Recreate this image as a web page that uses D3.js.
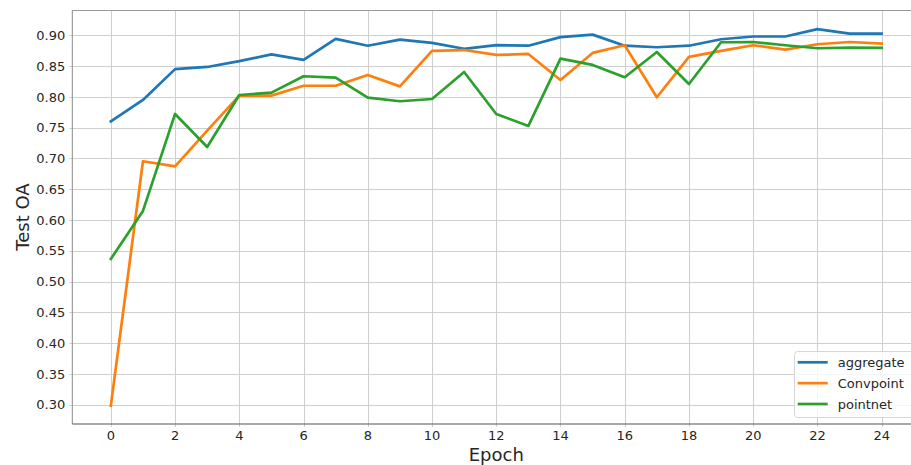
<!DOCTYPE html>
<html lang="en">
<head>
<meta charset="utf-8">
<title>Test OA per epoch</title>
<script src="https://d3js.org/d3.v7.min.js"></script>
<style>
  body { margin: 0; background: #fff; }
  text { font-family: "DejaVu Sans", sans-serif; fill: #262626; }
</style>
</head>
<body>
<script>
// DATA
var epochs = d3.range(0, 25);
var aggregate = [0.760, 0.795, 0.845, 0.8485, 0.858, 0.869, 0.860, 0.894, 0.883, 0.893,
                 0.8875, 0.878, 0.884, 0.883, 0.897, 0.901, 0.883, 0.8805, 0.883, 0.8935,
                 0.898, 0.898, 0.910, 0.9026, 0.9026];
var convpoint = [0.2985, 0.6954, 0.687, 0.745, 0.802, 0.802, 0.818, 0.818, 0.8355, 0.817,
                 0.8745, 0.876, 0.868, 0.8696, 0.8274, 0.8713, 0.8838, 0.7993, 0.865, 0.8745,
                 0.8838, 0.8766, 0.8854, 0.889, 0.8864];
var pointnet = [0.5367, 0.6147, 0.7722, 0.7186, 0.803, 0.8068, 0.8334, 0.8311, 0.7987, 0.7928,
                0.7965, 0.8404, 0.7722, 0.7527, 0.862, 0.8518, 0.8318, 0.8729, 0.8209, 0.8886,
                0.889, 0.8838, 0.8789, 0.880, 0.8794];
var seriesNames = ["aggregate", "Convpoint", "pointnet"];
var seriesColors = ["#1f77b4", "#ff7f0e", "#2ca02c"];
var xTicks = d3.range(0, 25, 2);
var yTicks = [0.30, 0.35, 0.40, 0.45, 0.50, 0.55, 0.60, 0.65, 0.70, 0.75, 0.80, 0.85, 0.90];

var w = 911, h = 465;
var mLeft = 72.3, mRight = 920.2, mTop = 10, mBottom = 424;

var svg = d3.select("body").append("svg")
  .attr("width", w).attr("height", h);

// SCALES (matplotlib style 5% margins)
var x = d3.scaleLinear().domain([-1.2, 25.2]).range([mLeft, mRight]);
var y = d3.scaleLinear().domain([0.2687, 0.941]).range([mBottom, mTop]);

// GRID
svg.append("g").selectAll("line").data(yTicks).enter().append("line")
  .attr("x1", mLeft - 3).attr("x2", mRight)
  .attr("y1", function(d){ return Math.round(y(d)) + 0.5; })
  .attr("y2", function(d){ return Math.round(y(d)) + 0.5; })
  .attr("stroke", "#cfcfcf").attr("stroke-width", 1);

svg.append("g").selectAll("line").data(xTicks).enter().append("line")
  .attr("y1", mTop).attr("y2", mBottom + 3)
  .attr("x1", function(d){ return Math.round(x(d)) + 0.5; })
  .attr("x2", function(d){ return Math.round(x(d)) + 0.5; })
  .attr("stroke", "#cfcfcf").attr("stroke-width", 1);

// SPINES
svg.append("line").attr("x1", mLeft).attr("x2", mLeft).attr("y1", mTop).attr("y2", mBottom)
  .attr("stroke", "#8a8a8a").attr("stroke-width", 1);
svg.append("line").attr("x1", mLeft).attr("x2", mRight).attr("y1", mTop + 0.5).attr("y2", mTop + 0.5)
  .attr("stroke", "#9a9a9a").attr("stroke-width", 1);
svg.append("line").attr("x1", mLeft).attr("x2", mRight).attr("y1", mBottom).attr("y2", mBottom)
  .attr("stroke", "#555").attr("stroke-width", 1.2);

// TICK LABELS
svg.append("g").selectAll("text").data(yTicks).enter().append("text")
  .attr("x", mLeft - 7)
  .attr("y", function(d){ return y(d); })
  .attr("dy", "0.36em")
  .attr("text-anchor", "end")
  .attr("font-size", "13px")
  .text(function(d){ return d3.format(".2f")(d); });

svg.append("g").selectAll("text").data(xTicks).enter().append("text")
  .attr("x", function(d){ return x(d); })
  .attr("y", 440)
  .attr("text-anchor", "middle")
  .attr("font-size", "13px")
  .text(function(d){ return d; });

// AXIS LABELS
svg.append("text")
  .attr("x", (mLeft + mRight) / 2).attr("y", 461)
  .attr("text-anchor", "middle").attr("font-size", "18px")
  .text("Epoch");

svg.append("text")
  .attr("transform", "translate(29," + ((mTop + mBottom) / 2) + ") rotate(-90)")
  .attr("text-anchor", "middle").attr("font-size", "18px")
  .text("Test OA");

// LINES
var allSeries = [aggregate, convpoint, pointnet];
var line = d3.line()
  .x(function(d, i){ return x(epochs[i]); })
  .y(function(d){ return y(d); });

svg.append("g").selectAll("path").data(allSeries).enter().append("path")
  .attr("d", line)
  .attr("fill", "none")
  .attr("stroke", function(d, i){ return seriesColors[i]; })
  .attr("stroke-width", 2.7)
  .attr("stroke-linejoin", "round")
  .attr("stroke-linecap", "square");

// LEGEND
var lg = svg.append("g");
lg.append("rect")
  .attr("x", 794.5).attr("y", 351.5).attr("width", 120).attr("height", 66)
  .attr("rx", 3)
  .attr("fill", "#fff").attr("fill-opacity", 0.8)
  .attr("stroke", "#d6d6d6");

var rows = lg.selectAll("g.row").data(seriesNames).enter().append("g")
  .attr("transform", function(d, i){ return "translate(0," + (362.3 + i * 20.85) + ")"; });
rows.append("line")
  .attr("x1", 797.7).attr("x2", 827.7).attr("y1", 0).attr("y2", 0)
  .attr("stroke", function(d, i){ return seriesColors[i]; })
  .attr("stroke-width", 2.7);
rows.append("text")
  .attr("x", 837.7).attr("y", 0).attr("dy", "0.36em")
  .attr("font-size", "13px")
  .text(function(d){ return d; });
</script>
</body>
</html>
